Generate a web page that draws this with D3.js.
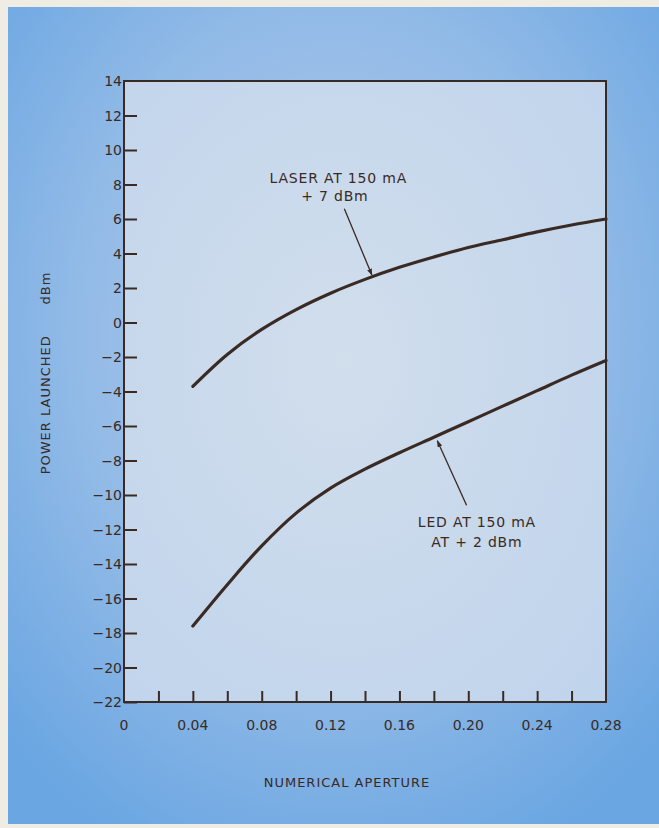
<!DOCTYPE html>
<html>
<head>
<meta charset="utf-8">
<script src="https://cdn.jsdelivr.net/npm/d3@7"></script>
<style>
  html, body { margin: 0; padding: 0; background: #efece4; }
  svg { display: block; }
  text { font-family: "DejaVu Sans", "Liberation Sans", Arial, sans-serif; fill: #3a2a24; }
</style>
</head>
<body>
<script>
// ---- data ----
const naValues = [0.04, 0.06, 0.08, 0.10, 0.12, 0.14, 0.16, 0.18, 0.20, 0.22, 0.24, 0.26, 0.28];
const laserDbm = [-3.7, -1.85, -0.4, 0.75, 1.7, 2.5, 3.2, 3.8, 4.35, 4.8, 5.25, 5.65, 6.0];
const ledDbm   = [-17.6, -15.2, -12.95, -11.05, -9.6, -8.5, -7.55, -6.65, -5.75, -4.85, -3.95, -3.05, -2.2];
const xTicks = [0, 0.02, 0.04, 0.06, 0.08, 0.10, 0.12, 0.14, 0.16, 0.18, 0.20, 0.22, 0.24, 0.26, 0.28];
const xTickLabels = ["0", "", "0.04", "", "0.08", "", "0.12", "", "0.16", "", "0.20", "", "0.24", "", "0.28"];
const yTicks = [14, 12, 10, 8, 6, 4, 2, 0, -2, -4, -6, -8, -10, -12, -14, -16, -18, -20, -22];
const laserLabel = ["LASER AT 150 mA", "+ 7 dBm"];
const ledLabel = ["LED AT 150 mA", "AT + 2 dBm"];
const xTitle = "NUMERICAL APERTURE";
const yTitle = "POWER LAUNCHED      dBm";

// ---- layout ----
const W = 659, H = 828;
const svg = d3.select("body").append("svg").attr("width", W).attr("height", H);
const defs = svg.append("defs");

const bg = defs.append("radialGradient").attr("id", "bg")
  .attr("cx", "50%").attr("cy", "40%").attr("r", "70%");
bg.append("stop").attr("offset", "0%").attr("stop-color", "#b3cdec");
bg.append("stop").attr("offset", "55%").attr("stop-color", "#93bbe7");
bg.append("stop").attr("offset", "100%").attr("stop-color", "#6aa6e2");

const pg = defs.append("radialGradient").attr("id", "pg")
  .attr("cx", "45%").attr("cy", "45%").attr("r", "75%");
pg.append("stop").attr("offset", "0%").attr("stop-color", "#d1deec");
pg.append("stop").attr("offset", "100%").attr("stop-color", "#c0d4ec");

const arrowM = defs.append("marker").attr("id", "ah")
  .attr("viewBox", "0 0 10 10").attr("refX", 9).attr("refY", 5)
  .attr("markerWidth", 7).attr("markerHeight", 7).attr("orient", "auto")
  .attr("markerUnits", "userSpaceOnUse");
arrowM.append("path").attr("d", "M0,1.5 L10,5 L0,8.5 Z").attr("fill", "#3a2a24");

svg.append("rect").attr("x", 8).attr("y", 7).attr("width", W - 8).attr("height", 817)
  .attr("fill", "url(#bg)");

const x0 = 124, x1 = 606, y0 = 81, y1 = 702;
const x = d3.scaleLinear().domain([0, 0.28]).range([x0, x1]);
const y = d3.scaleLinear().domain([14, -22]).range([y0, y1]);

svg.append("rect").attr("x", x0).attr("y", y0).attr("width", x1 - x0).attr("height", y1 - y0)
  .attr("fill", "url(#pg)");

const ink = "#3a2a24";

// y axis ticks (inward)
const yAxis = d3.axisRight(y).tickValues(yTicks.slice(1)).tickSize(13).tickFormat("");
svg.append("g").attr("transform", `translate(${x0},0)`).call(yAxis)
  .call(g => g.select(".domain").remove())
  .call(g => g.selectAll("line").attr("stroke", ink).attr("stroke-width", 2));

// y labels
svg.append("g").selectAll("text").data(yTicks).join("text")
  .attr("x", x0 - 2).attr("y", d => y(d)).attr("dy", "0.36em")
  .attr("text-anchor", "end").attr("font-size", 14)
  .text(d => d < 0 ? "\u2212" + Math.abs(d) : String(d));

// x axis ticks (inward)
const xAxis = d3.axisTop(x).tickValues(xTicks.slice(1, -1)).tickSize(11).tickFormat("");
svg.append("g").attr("transform", `translate(0,${y1})`).call(xAxis)
  .call(g => g.select(".domain").remove())
  .call(g => g.selectAll("line").attr("stroke", ink).attr("stroke-width", 2));

svg.append("g").selectAll("text").data(xTicks.map((t, i) => ({t, l: xTickLabels[i]})).filter(d => d.l))
  .join("text")
  .attr("x", d => x(d.t)).attr("y", y1 + 28)
  .attr("text-anchor", "middle").attr("font-size", 14)
  .text(d => d.l);

// frame
svg.append("rect").attr("x", x0).attr("y", y0).attr("width", x1 - x0).attr("height", y1 - y0)
  .attr("fill", "none").attr("stroke", ink).attr("stroke-width", 2);

// curves
const line = d3.line().x(d => x(d[0])).y(d => y(d[1])).curve(d3.curveCatmullRom.alpha(0.5));
[laserDbm, ledDbm].forEach(vals => {
  svg.append("path").datum(naValues.map((n, i) => [n, vals[i]]))
    .attr("d", line).attr("fill", "none").attr("stroke", ink)
    .attr("stroke-width", 3.2).attr("stroke-linecap", "round");
});

// annotations
const ann = svg.append("g").attr("font-size", 14).attr("letter-spacing", "0.8px");
ann.append("text").attr("x", x(0.1245)).attr("y", y(8.1)).attr("text-anchor", "middle").text(laserLabel[0]);
ann.append("text").attr("x", x(0.1225)).attr("y", y(7.05)).attr("text-anchor", "middle").text(laserLabel[1]);
ann.append("text").attr("x", x(0.205)).attr("y", y(-11.85)).attr("text-anchor", "middle").text(ledLabel[0]);
ann.append("text").attr("x", x(0.205)).attr("y", y(-13.0)).attr("text-anchor", "middle").text(ledLabel[1]);

svg.append("line")
  .attr("x1", x(0.128)).attr("y1", y(6.6)).attr("x2", x(0.144)).attr("y2", y(2.75))
  .attr("stroke", ink).attr("stroke-width", 1.3).attr("marker-end", "url(#ah)");
svg.append("line")
  .attr("x1", x(0.199)).attr("y1", y(-10.6)).attr("x2", x(0.182)).attr("y2", y(-6.85))
  .attr("stroke", ink).attr("stroke-width", 1.3).attr("marker-end", "url(#ah)");

// titles
svg.append("text").attr("x", 347).attr("y", 787).attr("text-anchor", "middle")
  .attr("font-size", 13).attr("letter-spacing", "1px").text(xTitle);
svg.append("text").attr("transform", `translate(50,373) rotate(-90)`)
  .attr("text-anchor", "middle").attr("font-size", 13).attr("letter-spacing", "1px")
  .style("white-space", "pre").text(yTitle);
</script>
</body>
</html>
